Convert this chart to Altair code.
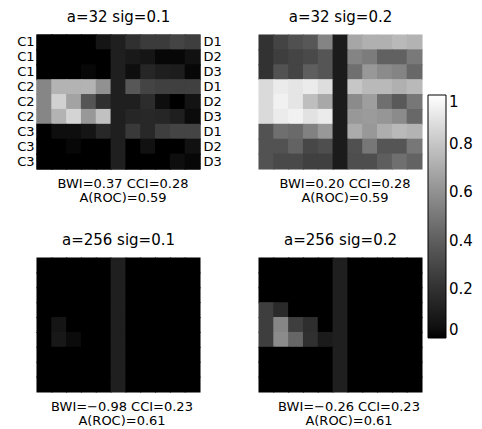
import json
import altair as alt
import pandas as pd

FONT = "DejaVu Sans"

row_labels_left = ["C1", "C1", "C1", "C2", "C2", "C2", "C3", "C3", "C3"]
row_labels_right = ["D1", "D2", "D3", "D1", "D2", "D3", "D1", "D2", "D3"]

titles = ["a=32 sig=0.1", "a=32 sig=0.2", "a=256 sig=0.1", "a=256 sig=0.2"]
bwi = ["0.37", "0.20", "\u22120.98", "\u22120.26"]
cci = ["0.28", "0.28", "0.23", "0.23"]
aroc = ["0.59", "0.59", "0.61", "0.61"]
cbar_ticks = [0, 0.2, 0.4, 0.6, 0.8, 1]

grid_a32_s01 = [
    [0.00, 0.00, 0.00, 0.00, 0.07, 0.12, 0.20, 0.25, 0.25, 0.29, 0.26],
    [0.00, 0.00, 0.00, 0.00, 0.00, 0.12, 0.09, 0.07, 0.02, 0.02, 0.05],
    [0.00, 0.00, 0.00, 0.02, 0.00, 0.12, 0.04, 0.15, 0.12, 0.11, 0.02],
    [0.56, 0.73, 0.73, 0.73, 0.60, 0.12, 0.37, 0.29, 0.27, 0.27, 0.27],
    [0.56, 0.84, 0.67, 0.36, 0.20, 0.12, 0.12, 0.18, 0.04, 0.00, 0.06],
    [0.56, 0.73, 0.85, 0.63, 0.78, 0.12, 0.15, 0.16, 0.15, 0.12, 0.03],
    [0.00, 0.04, 0.04, 0.07, 0.16, 0.12, 0.24, 0.16, 0.26, 0.29, 0.29],
    [0.00, 0.00, 0.02, 0.00, 0.00, 0.12, 0.00, 0.05, 0.00, 0.00, 0.05],
    [0.00, 0.00, 0.00, 0.00, 0.00, 0.12, 0.00, 0.00, 0.00, 0.04, 0.02],
]
grid_a32_s02 = [
    [0.21, 0.29, 0.34, 0.37, 0.55, 0.10, 0.68, 0.72, 0.72, 0.75, 0.73],
    [0.21, 0.26, 0.29, 0.31, 0.36, 0.10, 0.55, 0.52, 0.41, 0.41, 0.51],
    [0.21, 0.35, 0.29, 0.40, 0.36, 0.10, 0.47, 0.63, 0.58, 0.55, 0.44],
    [0.87, 0.93, 0.91, 0.93, 0.88, 0.10, 0.80, 0.75, 0.75, 0.72, 0.75],
    [0.87, 0.95, 0.91, 0.77, 0.69, 0.10, 0.58, 0.65, 0.47, 0.38, 0.50],
    [0.87, 0.93, 0.95, 0.90, 0.93, 0.10, 0.63, 0.64, 0.62, 0.58, 0.44],
    [0.35, 0.47, 0.45, 0.54, 0.63, 0.10, 0.70, 0.63, 0.71, 0.75, 0.73],
    [0.35, 0.35, 0.42, 0.30, 0.33, 0.10, 0.34, 0.50, 0.36, 0.36, 0.50],
    [0.35, 0.31, 0.31, 0.27, 0.27, 0.10, 0.33, 0.33, 0.40, 0.47, 0.42],
]
grid_a256_s01 = [
    [0.00, 0.00, 0.00, 0.00, 0.00, 0.12, 0.00, 0.00, 0.00, 0.00, 0.00],
    [0.00, 0.00, 0.00, 0.00, 0.00, 0.12, 0.00, 0.00, 0.00, 0.00, 0.00],
    [0.00, 0.00, 0.00, 0.00, 0.00, 0.12, 0.00, 0.00, 0.00, 0.00, 0.00],
    [0.00, 0.00, 0.00, 0.00, 0.00, 0.12, 0.00, 0.00, 0.00, 0.00, 0.00],
    [0.00, 0.07, 0.00, 0.00, 0.00, 0.12, 0.00, 0.00, 0.00, 0.00, 0.00],
    [0.00, 0.08, 0.03, 0.00, 0.00, 0.12, 0.00, 0.00, 0.00, 0.00, 0.00],
    [0.00, 0.00, 0.00, 0.00, 0.00, 0.12, 0.00, 0.00, 0.00, 0.00, 0.00],
    [0.00, 0.00, 0.00, 0.00, 0.00, 0.12, 0.00, 0.00, 0.00, 0.00, 0.00],
    [0.00, 0.00, 0.00, 0.00, 0.00, 0.12, 0.00, 0.00, 0.00, 0.00, 0.00],
]
grid_a256_s02 = [
    [0.00, 0.00, 0.00, 0.00, 0.00, 0.12, 0.00, 0.00, 0.00, 0.00, 0.00],
    [0.00, 0.00, 0.00, 0.00, 0.00, 0.12, 0.00, 0.00, 0.00, 0.00, 0.00],
    [0.00, 0.00, 0.00, 0.00, 0.00, 0.12, 0.00, 0.00, 0.00, 0.00, 0.00],
    [0.26, 0.17, 0.00, 0.00, 0.00, 0.12, 0.00, 0.00, 0.00, 0.00, 0.00],
    [0.26, 0.56, 0.26, 0.19, 0.00, 0.12, 0.00, 0.00, 0.00, 0.00, 0.00],
    [0.26, 0.58, 0.43, 0.20, 0.10, 0.12, 0.00, 0.00, 0.00, 0.00, 0.00],
    [0.00, 0.00, 0.00, 0.00, 0.00, 0.12, 0.00, 0.00, 0.00, 0.00, 0.00],
    [0.00, 0.00, 0.00, 0.00, 0.00, 0.12, 0.00, 0.00, 0.00, 0.00, 0.00],
    [0.00, 0.00, 0.00, 0.00, 0.00, 0.12, 0.00, 0.00, 0.00, 0.00, 0.00],
]
grids = [grid_a32_s01, grid_a32_s02, grid_a256_s01, grid_a256_s02]

# horizontal shift of the two-line statistics label under each panel
label_shift = [4, 4, 3, 8]

W, H = 163, 134


def to_df(mat):
    recs = []
    for r, row in enumerate(mat):
        for c, v in enumerate(row):
            recs.append({"row": r, "col": c, "value": v})
    return pd.DataFrame(recs)


gray = alt.Scale(domain=[0, 1], range=["#000000", "#ffffff"])

color_legend = alt.Legend(
    orient="none", legendX=391, legendY=60, direction="vertical",
    gradientLength=243, gradientThickness=18,
    gradientStrokeColor="black", gradientStrokeWidth=1,
    values=cbar_ticks, format="~g",
    labelFont=FONT, labelFontSize=15, labelColor="black", labelOffset=3,
    title=None, padding=0,
)


def panel(i):
    df = to_df(grids[i])
    line1 = f"BWI={bwi[i]} CCI={cci[i]}"
    line2 = f"A(ROC)={aroc[i]}"
    x = alt.X(
        "col:O",
        scale=alt.Scale(paddingInner=0, paddingOuter=0),
        axis=alt.Axis(
            labels=False, ticks=False, domain=False, grid=False,
            title=[line1, line2], titleFont=FONT, titleFontSize=13,
            titleFontWeight="normal", titleColor="black",
            titlePadding=8, titleLineHeight=14,
            titleX=W / 2 + label_shift[i], titleAlign="center",
        ),
    )
    color = alt.Color("value:Q", scale=gray, legend=color_legend)
    base = alt.Chart(df).mark_rect(
        strokeWidth=0,
        width=alt.RelativeBandSize(1.07),
        height=alt.RelativeBandSize(1.07),
    )
    title = alt.Title(titles[i], font=FONT, fontSize=15, fontWeight="normal",
                      color="black", offset=9, anchor="middle")
    if i == 0:
        left = base.encode(
            x=x,
            y=alt.Y("row:O", scale=alt.Scale(paddingInner=0, paddingOuter=0),
                    axis=alt.Axis(orient="left", title=None, ticks=False, domain=False,
                                  labelExpr=f"{json.dumps(row_labels_left)}[datum.value]",
                                  labelFont=FONT, labelFontSize=13, labelColor="black",
                                  labelPadding=3)),
            color=color,
        )
        right = base.encode(
            x=x,
            y=alt.Y("row:O", scale=alt.Scale(paddingInner=0, paddingOuter=0),
                    axis=alt.Axis(orient="right", title=None, ticks=False, domain=False,
                                  labelExpr=f"{json.dumps(row_labels_right)}[datum.value]",
                                  labelFont=FONT, labelFontSize=13, labelColor="black",
                                  labelPadding=3)),
            color=color,
        )
        return alt.layer(left, right).resolve_axis(y="independent").properties(
            width=W, height=H, title=title)
    ch = base.encode(
        x=x,
        y=alt.Y("row:O", scale=alt.Scale(paddingInner=0, paddingOuter=0), axis=None),
        color=color,
    )
    return ch.properties(width=W, height=H, title=title)


chart = alt.concat(
    *[panel(i) for i in range(4)],
    columns=2,
    spacing={"row": 89, "column": 59},
    bounds="flush",
).resolve_scale(color="shared").resolve_legend(color="shared").properties(
    padding={"left": 8, "top": 2, "right": 0, "bottom": 0},
    background="white",
).configure_view(strokeWidth=0)

chart.save("out.html", embed_options={"renderer": "svg", "actions": False})
